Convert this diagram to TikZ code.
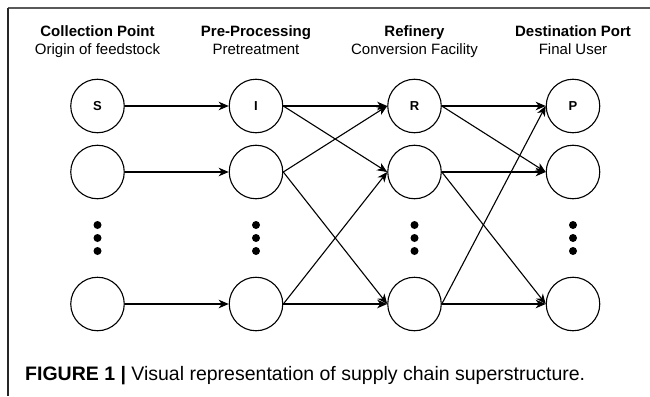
\documentclass[tikz,border=0pt]{standalone}
\usepackage{fontspec}
\setmainfont{Liberation Sans}
\usetikzlibrary{arrows.meta}
\begin{document}
\begin{tikzpicture}[x=1pt,y=-1pt,
  stage/.style={circle,draw=black,line width=1.1pt,minimum size=53.5pt,inner sep=0pt,font=\fontsize{13}{13}\selectfont\bfseries},
  head/.style={anchor=base,font=\fontsize{15}{15}\selectfont\bfseries},
  sub/.style={anchor=base,font=\fontsize{15}{15}\selectfont},
  flow/.style={line width=1.1pt,-{Stealth[length=10pt,width=8.5pt,inset=3pt]}},
  dot/.style={circle,fill=black,minimum size=8pt,inner sep=0pt}]
\useasboundingbox (0,0) rectangle (650,396);
\fill[white] (0,0) rectangle (650,396);
% frame
\coordinate (ftl) at (8,8);
\coordinate (ftr) at (650,8);
\coordinate (fbl) at (8,396);
\draw[line width=2pt,draw=black!65] (ftl) -- (ftr);
\draw[line width=1.3pt,draw=black!85] (ftl) -- (fbl);
% headings
\node[head] (h1) at (97.5,37) {Collection Point};
\node[sub]  (s1) at (97.5,54.5) {Origin of feedstock};
\node[head] (h2) at (256,37) {Pre-Processing};
\node[sub]  (s2) at (256,54.5) {Pretreatment};
\node[head] (h3) at (414.5,37) {Refinery};
\node[sub]  (s3) at (414.5,54.5) {Conversion Facility};
\node[head] (h4) at (573,37) {Destination Port};
\node[sub]  (s4) at (573,54.5) {Final User};
% nodes
\foreach \c/\x/\t in {S/97.5/S,I/256/I,R/414.5/R,P/573/P}{
  \node[stage] (\c1) at (\x,106) {\t};
  \node[stage] (\c2) at (\x,172) {};
  \node[stage] (\c4) at (\x,304) {};
  \node[dot] (\c d1) at (\x,225) {};
  \node[dot] (\c d2) at (\x,238) {};
  \node[dot] (\c d3) at (\x,251) {};
}
% connectors
\draw[flow] (S1.east) -- (I1.west);
\draw[flow] (S2.east) -- (I2.west);
\draw[flow] (S4.east) -- (I4.west);
\draw[flow] (I1.east) -- (R1.west);
\draw[flow] (I1.east) -- (R2.west);
\draw[flow] (I2.east) -- (R1.west);
\draw[flow] (I2.east) -- (R4.west);
\draw[flow] (I4.east) -- (R4.west);
\draw[flow] (I4.east) -- (R2.west);
\draw[flow] (R1.east) -- (P1.west);
\draw[flow] (R1.east) -- (P2.west);
\draw[flow] (R2.east) -- (P2.west);
\draw[flow] (R2.east) -- (P4.west);
\draw[flow] (R4.east) -- (P4.west);
\draw[flow] (R4.east) -- (P1.west);
% caption
\node[anchor=base west,inner sep=0pt,font=\fontsize{19.5}{19.5}\selectfont] (cap) at (25,380) {\textbf{FIGURE 1 |} Visual representation of supply chain superstructure.};
\end{tikzpicture}
\end{document}
